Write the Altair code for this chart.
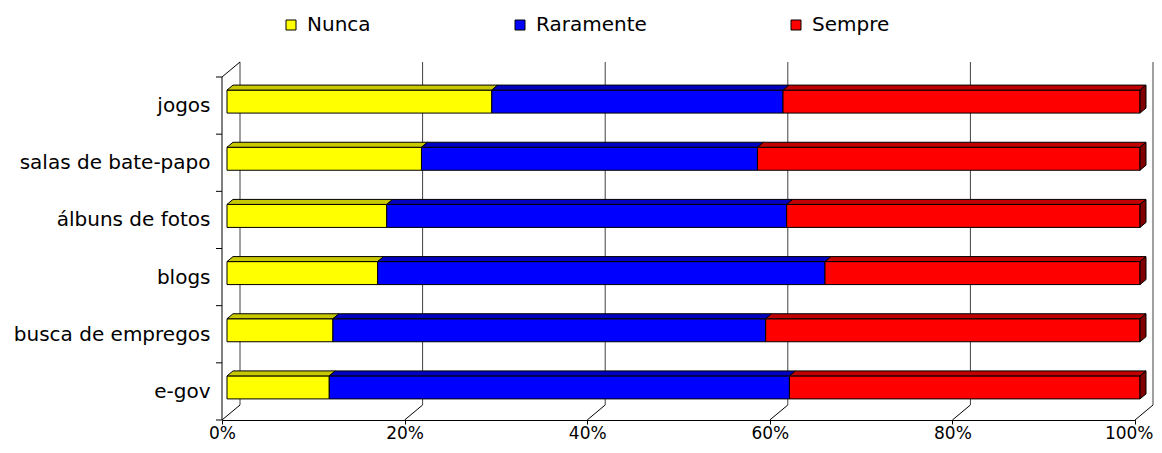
import json
import altair as alt
import pandas as pd

# ---------------- data ----------------
categories = ["jogos", "salas de bate-papo", "álbuns de fotos", "blogs",
              "busca de empregos", "e-gov"]
series = ["Nunca", "Raramente", "Sempre"]
nunca = [29.0, 21.3, 17.5, 16.5, 11.6, 11.2]
raramente = [31.9, 36.8, 43.8, 49.0, 47.4, 50.4]
sempre = [39.1, 41.9, 38.7, 34.5, 41.0, 38.4]
tick_values = [0, 20, 40, 60, 80, 100]

# ---------------- style ----------------
face_colors = ["#FFFF00", "#0000FF", "#FF0000"]
top_colors = ["#C8C800", "#0000C0", "#C00000"]
side_color = "#800000"
FONT = "DejaVu Sans"

W = 913          # front axis width (px)
H = 343          # front axis height (px)
DX, DY = 18, 15  # depth of the 3-D box (px)
BX, BY = 5, 4    # bar front-face offset into depth (px)
BDX, BDY = 6, 5  # bar depth (px)
BH = 23          # bar thickness (px)
VH = H + DY
N = len(categories)
BAND = H / N
KX = 100 / W

rows = []
for ci, cat in enumerate(categories):
    start = 0.0
    for s, vals in zip(series, [nunca, raramente, sempre]):
        rows.append({"cat": cat, "idx": N - 1 - ci, "series": s,
                     "start": start, "end": start + vals[ci]})
        start += vals[ci]
bars = pd.DataFrame(rows)
ticks_df = pd.DataFrame({"t": tick_values})

xs = alt.Scale(domain=[0, 100], nice=False, zero=False)
ys = alt.Scale(domain=[0, VH], nice=False, zero=False)

yc = f"((datum.idx + 0.5) * {BAND} + {BY})"

xaxis = alt.Axis(
    values=tick_values, labelExpr="datum.value + '%'", title=None, grid=False,
    tickSize=4, tickColor="black", domainColor="black", labelColor="black",
    labelFontSize=17, labelFont=FONT, labelPadding=1,
    labelAlign={"condition": {"test": "datum.value == 100", "value": "right"}, "value": "center"},
    labelOffset={"condition": {"test": "datum.value == 100", "value": 18}, "value": 0},
)
labels_bu = categories[::-1]
yaxis = alt.Axis(
    values=[(i + 0.5) * BAND for i in range(N)],
    labelExpr=f"{json.dumps(labels_bu, ensure_ascii=False)}[round(datum.value / {BAND} - 0.5)]",
    title=None, grid=False, ticks=False, domain=False, labelLimit=400,
    labelFontSize=20, labelFont=FONT, labelColor="black", labelPadding=12,
)
legend = alt.Legend(
    title=None, orient="none", legendX=59, legendY=-47, direction="horizontal",
    symbolType="square", symbolSize=100, symbolStrokeColor="black", symbolStrokeWidth=1,
    labelFontSize=20, labelFont=FONT, labelColor="black", labelOffset=6,
    columnPadding=139, padding=0, labelLimit=400,
)


def X(field):
    return alt.X(field, scale=xs, axis=xaxis, stack=None)


def Y(field):
    return alt.Y(field, scale=ys, axis=yaxis, stack=None)


# back wall grid lines
back_grid = alt.Chart(ticks_df).transform_calculate(
    gx=f"datum.t + {DX * KX}", gy0=f"{DY}", gy1=f"{VH}"
).mark_rule(color="#404040", strokeWidth=1).encode(
    x=X("gx:Q"), y=Y("gy0:Q"), y2="gy1:Q",
)
# floor diagonals
floor = alt.Chart(ticks_df).transform_calculate(
    fx0="datum.t", fx1=f"datum.t + {DX * KX}", fy0="0", fy1=f"{DY}"
).mark_rule(color="black", strokeWidth=1).encode(
    x=X("fx0:Q"), x2="fx1:Q", y=Y("fy0:Q"), y2="fy1:Q",
)
one = alt.Data(values=[{"o": 0}])
left_line = alt.Chart(one).transform_calculate(
    lx="0", ly0="0", ly1=f"{H}"
).mark_rule(color="black", strokeWidth=1).encode(
    x=X("lx:Q"), y=Y("ly0:Q"), y2="ly1:Q",
)
left_top = alt.Chart(one).transform_calculate(
    lx0="0", lx1=f"{DX * KX}", ly0=f"{H}", ly1=f"{VH}"
).mark_rule(color="black", strokeWidth=1).encode(
    x=X("lx0:Q"), x2="lx1:Q", y=Y("ly0:Q"), y2="ly1:Q",
)
left_ticks = alt.Chart(alt.sequence(0, N + 1, as_="k")).transform_calculate(
    tx0=f"{-6 * KX}", tx1="0", ty=f"datum.k * {BAND}"
).mark_rule(color="black", strokeWidth=1).encode(
    x=X("tx0:Q"), x2="tx1:Q", y=Y("ty:Q"),
)

# bar front faces
front = alt.Chart(bars).transform_calculate(
    x0=f"datum.start + {BX * KX}", x1=f"datum.end + {BX * KX}",
    y0=f"{yc} - {BH / 2}", y1=f"{yc} + {BH / 2}",
).mark_rect(stroke="black", strokeWidth=1).encode(
    x=X("x0:Q"), x2="x1:Q", y=Y("y0:Q"), y2="y1:Q",
    color=alt.Color("series:N", scale=alt.Scale(domain=series, range=face_colors), legend=legend),
)

# bar top faces
top = alt.Chart(bars).transform_calculate(pt="[0, 1]").transform_flatten(["pt"]).transform_calculate(
    ax=f"datum.start + ({BX} + datum.pt * {BDX}) * {KX}",
    bx=f"datum.end + ({BX} + datum.pt * {BDX}) * {KX}",
    ay=f"{yc} + {BH / 2} + datum.pt * {BDY}",
    key="datum.cat + '|' + datum.series",
).mark_area(orient="horizontal", stroke="black", strokeWidth=1).encode(
    x=X("ax:Q"), x2="bx:Q", y=Y("ay:Q"),
    fill=alt.Fill("series:N", scale=alt.Scale(domain=series, range=top_colors), legend=None),
    detail="key:N",
)

# right side faces of the last segment
side = alt.Chart(bars).transform_filter(
    f"datum.series == '{series[-1]}'"
).transform_calculate(pt="[0, 1]").transform_flatten(["pt"]).transform_calculate(
    sx=f"datum.end + ({BX} + datum.pt * {BDX}) * {KX}",
    sy0=f"{yc} - {BH / 2} + datum.pt * {BDY}",
    sy1=f"{yc} + {BH / 2} + datum.pt * {BDY}",
).mark_area(orient="vertical", stroke="black", strokeWidth=1, fill=side_color).encode(
    x=X("sx:Q"), y=Y("sy0:Q"), y2="sy1:Q",
    detail="cat:N",
)

chart = alt.layer(
    back_grid, floor, left_line, left_top, left_ticks, front, top, side
).properties(
    width=W, height=VH,
    autosize=alt.AutoSizeParams(type="none"),
    padding={"left": 214, "top": 54, "right": 19, "bottom": 25},
).configure(font=FONT).configure_view(strokeWidth=0)

chart.save("out.html", embed_options={"renderer": "svg", "actions": False})
